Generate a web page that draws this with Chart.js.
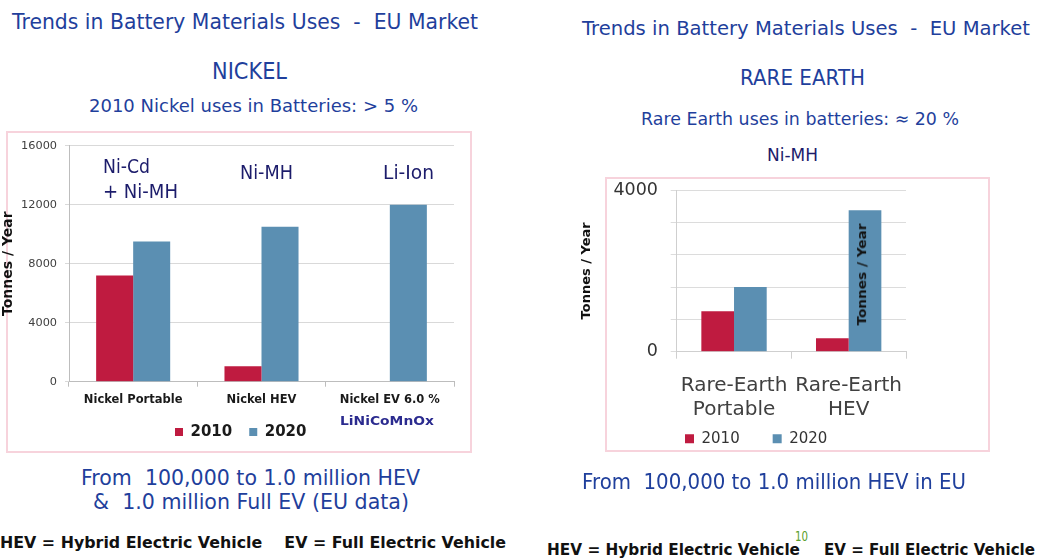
<!DOCTYPE html>
<html><head><meta charset="utf-8">
<script src="https://cdn.jsdelivr.net/npm/chart.js@4.4.1/dist/chart.umd.min.js"></script>
<style>
html,body{margin:0;padding:0;background:#fff;width:1037px;height:559px;overflow:hidden;position:relative;font-family:"DejaVu Sans",sans-serif;}
.t{position:absolute;white-space:pre;transform-origin:0 50%;}
.box{position:absolute;border:2px solid #f7d3dc;box-sizing:border-box;}
canvas{position:absolute;}
</style></head><body>
<div class="box" style="left:6px;top:131px;width:466px;height:322px"></div>
<div class="box" style="left:605px;top:177px;width:385px;height:275px"></div>
<canvas id="c1" width="470" height="332" style="left:0;top:132px"></canvas>
<canvas id="c2" width="419" height="316" style="left:570px;top:177px"></canvas>
<script>
// ---------- data ----------
const seriesNames = ["2010", "2020"];
const nickelCategories = ["Nickel Portable", "Nickel HEV", "Nickel EV 6.0 %"];
const nickel2010 = [7200, 1050, 0];
const nickel2020 = [9500, 10500, 12000];
const nickelTickStep = 4000;
const nickelMax = 16000;
const rareCategories = [["Rare-Earth", "Portable"], ["Rare-Earth", "HEV"]];
const rare2010 = [1000, 330];
const rare2020 = [1600, 3500];
const rareTickStep = 800;
const rareMax = 4000;
const rareShownTicks = [0, 4000];

const RED = "#bf1b40", BLUE = "#5b8fb2";
const TBLUE = "#1f3f9c", NAVY = "#1c1c6b";

Chart.defaults.font.family = '"DejaVu Sans", sans-serif';

const legendPlace = {
  id: "legendPlace",
  afterLayout(chart, args, o) {
    const lg = chart.legend;
    if (!lg || o.x == null) return;
    const pad = o.pad;
    const lw = lg.lineWidths[0];
    const startX = (lg.left + pad + lg.right - lw) / 2;
    const dx = o.x - startX;
    const dy = o.y - (lg.top + pad + o.ih / 2);
    lg.left += dx; lg.right += dx; lg.top += dy; lg.bottom += dy;
  }
};

new Chart(document.getElementById("c1"), {
  type: "bar",
  data: {
    labels: nickelCategories,
    datasets: [
      { label: seriesNames[0], data: nickel2010, backgroundColor: RED },
      { label: seriesNames[1], data: nickel2020, backgroundColor: BLUE }
    ]
  },
  plugins: [legendPlace],
  options: {
    responsive: false, animation: false, devicePixelRatio: 1,
    layout: { padding: { left: 0, top: 13.7, right: 16, bottom: 10.3 } },
    datasets: { bar: { categoryPercentage: 0.577, barPercentage: 1 } },
    scales: {
      x: {
        grid: { display: true, drawOnChartArea: false, tickLength: 5, color: "#bdbdbd", offset: true },
        border: { color: "#bdbdbd" },
        ticks: { font: { size: 11.5, weight: "bold" }, color: "#1a1a1a", padding: 6, maxRotation: 0, minRotation: 0, autoSkip: false },
        afterFit(s) { s.height = 30; }
      },
      y: {
        min: 0, max: nickelMax,
        ticks: { stepSize: nickelTickStep, font: { size: 11.3 }, color: "#404040", padding: 8, callback: v => String(v) },
        grid: { color: "#d9d9d9", tickLength: 4 },
        border: { color: "#bdbdbd" },
        title: { display: true, text: "Tonnes / Year", font: { size: 14, weight: "bold" }, color: "#111", padding: { top: 0, bottom: 0 } },
        afterFit(s) { s.width = 69; s.paddingTop = 0; s.paddingBottom = 0; }
      }
    },
    plugins: {
      legend: { position: "bottom", labels: { boxWidth: 8, boxHeight: 8, padding: 17, font: { size: 15, weight: "bold" }, color: "#1a1a1a" } },
      tooltip: { enabled: false },
      legendPlace: { x: 175, y: 300, pad: 17, ih: 15 }
    }
  }
});

new Chart(document.getElementById("c2"), {
  type: "bar",
  data: {
    labels: rareCategories,
    datasets: [
      { label: seriesNames[0], data: rare2010, backgroundColor: RED },
      { label: seriesNames[1], data: rare2020, backgroundColor: BLUE }
    ]
  },
  plugins: [legendPlace],
  options: {
    responsive: false, animation: false, devicePixelRatio: 1,
    layout: { padding: { left: 0, top: 13, right: 83, bottom: 3.3 } },
    datasets: { bar: { categoryPercentage: 0.57, barPercentage: 1 } },
    scales: {
      x: {
        grid: { display: true, drawOnChartArea: false, tickLength: 7, color: "#cfcfcf", offset: true },
        border: { color: "#cfcfcf" },
        ticks: { font: { size: 20, lineHeight: 1.225 }, color: "#404040", padding: 14.5, maxRotation: 0, minRotation: 0, autoSkip: false },
        afterFit(s) { s.height = 80; }
      },
      y: {
        min: 0, max: rareMax,
        ticks: { stepSize: rareTickStep, font: { size: 17.5 }, color: "#333", padding: 12.7,
          callback: v => rareShownTicks.includes(v) ? String(v) : "" },
        grid: { color: "#dcdcdc", tickLength: 6 },
        border: { color: "#cfcfcf" },
        title: { display: true, text: "Tonnes / Year", font: { size: 13, weight: "bold" }, color: "#111", padding: { top: 9.2, bottom: 0 } },
        afterFit(s) { s.width = 106.7; s.paddingTop = 0; s.paddingBottom = 0; }
      }
    },
    plugins: {
      legend: { position: "bottom", labels: { boxWidth: 9, boxHeight: 9, padding: 33, font: { size: 15 }, color: "#333" } },
      tooltip: { enabled: false },
      legendPlace: { x: 115, y: 261.7, pad: 33, ih: 15 }
    }
  }
});

// ---------- slide text ----------
const texts = [
  { t: "Trends in Battery Materials Uses  -  EU Market", x: 12, cy: 22, w: 466, fs: 20.5, c: TBLUE },
  { t: "NICKEL", x: 212, cy: 71.5, w: 75, fs: 23, c: TBLUE },
  { t: "2010 Nickel uses in Batteries: > 5 %", x: 89, cy: 106, w: 329, fs: 18, c: TBLUE },
  { t: "Ni-Cd", x: 103, cy: 165.8, w: 47, fs: 20, c: NAVY },
  { t: "+ Ni-MH", x: 103, cy: 190.8, w: 75, fs: 20, c: NAVY },
  { t: "Ni-MH", x: 240, cy: 172.8, w: 53, fs: 19.5, c: NAVY },
  { t: "Li-Ion", x: 383, cy: 172.8, w: 51, fs: 19.5, c: NAVY },
  { t: "LiNiCoMnOx", x: 340, cy: 420, w: 94, fs: 13, c: "#2b2b8f", b: 1 },
  { t: "Trends in Battery Materials Uses  -  EU Market", x: 582, cy: 27.5, w: 448, fs: 20, c: TBLUE },
  { t: "RARE EARTH", x: 740, cy: 78, w: 125, fs: 22, c: TBLUE },
  { t: "Rare Earth uses in batteries: \u2248 20 %", x: 641, cy: 118.3, w: 318, fs: 18, c: TBLUE },
  { t: "Ni-MH", x: 767, cy: 155, w: 51, fs: 18, c: NAVY },
  { t: "From  100,000 to 1.0 million HEV", x: 81, cy: 477.5, w: 339, fs: 20.5, c: TBLUE },
  { t: "&  1.0 million Full EV (EU data)", x: 93, cy: 501.5, w: 316, fs: 20.5, c: TBLUE },
  { t: "From  100,000 to 1.0 million HEV in EU", x: 582, cy: 482, w: 384, fs: 20.5, c: TBLUE },
  { t: "HEV = Hybrid Electric Vehicle    EV = Full Electric Vehicle", x: 0, cy: 543, w: 506, fs: 16.5, c: "#111", b: 1 },
  { t: "HEV = Hybrid Electric Vehicle", x: 547, cy: 550, w: 253, fs: 16.5, c: "#111", b: 1 },
  { t: "10", x: 795, cy: 535.5, w: 13, fs: 14, c: "#5aa02c" },
  { t: "EV = Full Electric Vehicle", x: 824, cy: 550, w: 211, fs: 16.5, c: "#111", b: 1 }
];
for (const s of texts) {
  const d = document.createElement("div");
  d.className = "t";
  d.textContent = s.t;
  d.style.font = (s.b ? "bold " : "") + s.fs + 'px "DejaVu Sans", sans-serif';
  d.style.lineHeight = "1";
  d.style.color = s.c;
  d.style.left = s.x + "px";
  d.style.top = (s.cy - s.fs * 0.48) + "px";
  document.body.appendChild(d);
  const w = d.getBoundingClientRect().width;
  d.style.transform = "scaleX(" + (s.w / w) + ")";
}
// rotated axis-style label inside the HEV 2020 bar
(function () {
  const d = document.createElement("div");
  d.textContent = "Tonnes / Year";
  d.style.cssText = 'position:absolute;white-space:pre;font:bold 13px "DejaVu Sans",sans-serif;line-height:1;color:#111;';
  document.body.appendChild(d);
  const r = d.getBoundingClientRect();
  const k = 102 / r.width;
  d.style.left = (861.7 - r.width / 2) + "px";
  d.style.top = (274 - r.height / 2) + "px";
  d.style.transform = "rotate(-90deg) scaleX(" + k + ")";
  d.style.transformOrigin = "50% 50%";
})();
</script>
</body></html>
